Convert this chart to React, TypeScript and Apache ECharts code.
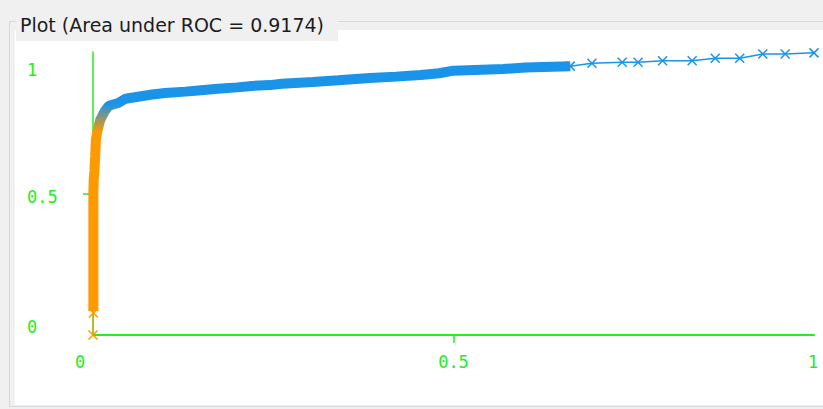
import React, { useEffect, useRef } from "react";
import * as echarts from "echarts";

const titleText = "Plot (Area under ROC = 0.9174)";
const tickValues = [0, 0.5, 1];
const xTickLabels = ["0", "0.5", "1"];
const yTickLabels = ["0", "0.5", "1"];

// first (highest-threshold) segment, orange
const startX = [0, 0.0005];
const startY = [0, 0.078];

// dense part of the ROC curve
const denseX = [
  0.0005, 0.0005, 0.0005, 0.001, 0.002, 0.003, 0.004, 0.006, 0.01, 0.016,
  0.022, 0.035, 0.045, 0.058, 0.082, 0.1, 0.128, 0.15, 0.173, 0.2, 0.22,
  0.245, 0.262, 0.305, 0.34, 0.384, 0.42, 0.454, 0.48, 0.5, 0.569, 0.6, 0.662,
];
const denseY = [
  0.085, 0.3, 0.5, 0.55, 0.58, 0.63, 0.69, 0.72, 0.76, 0.79,
  0.81, 0.82, 0.835, 0.84, 0.85, 0.855, 0.86, 0.865, 0.87, 0.875, 0.88,
  0.883, 0.888, 0.894, 0.9, 0.908, 0.913, 0.919, 0.925, 0.934, 0.94, 0.945, 0.95,
];

// sparse tail of the curve
const tailX = [0.662, 0.692, 0.734, 0.756, 0.79, 0.831, 0.863, 0.897, 0.929, 0.96, 1.0];
const tailY = [0.95, 0.96, 0.964, 0.964, 0.969, 0.969, 0.978, 0.978, 0.993, 0.993, 0.997];

const GREEN = "#22ee22";
const BLUE = "#1a94e8";
const ORANGE = "#ff9900";
const XMARK = "path://M0,0L10,10M10,0L0,10";

const zip = (xs: number[], ys: number[]) => xs.map((x, i) => [x, ys[i]]);

export default function App() {
  const ref = useRef<HTMLDivElement>(null);
  useEffect(() => {
    if (!ref.current) return;
    const chart = echarts.init(ref.current, undefined, { renderer: "svg" });
    const frame: any[] = [
      { type: "rect", z: -10, shape: { x: 9.5, y: 21.5, width: 830, height: 385 }, style: { fill: "#f0f0f0", stroke: "#d3dbe1", lineWidth: 1 } },
      { type: "rect", z: -9, shape: { x: 15, y: 30, width: 808, height: 375 }, style: { fill: "#ffffff" } },
      { type: "rect", z: -8, shape: { x: 16, y: 8, width: 322, height: 33 }, style: { fill: "#f0f0f0" } },
      {
        type: "text", z: -7, x: 20, y: 25,
        style: { text: titleText, fill: "#1c1c1c", font: '19px "DejaVu Sans"', textVerticalAlign: "middle" },
      },
    ];
    const option: any = {
      animation: false,
      backgroundColor: "#f0f0f0",
      grid: { left: 93, top: 52, width: 721, height: 283 },
      xAxis: {
        type: "value", min: 0, max: 1, interval: 0.5,
        axisLine: { lineStyle: { color: GREEN, width: 2 } },
        axisTick: { show: true, customValues: [0.5], length: 8, lineStyle: { color: GREEN, width: 1.5 } },
        axisLabel: { show: false },
        splitLine: { show: false },
      },
      yAxis: {
        type: "value", min: 0, max: 1, interval: 0.5,
        axisLine: { show: true, lineStyle: { color: GREEN, width: 1.5 } },
        axisTick: { show: true, customValues: [0.5], length: 10, lineStyle: { color: GREEN, width: 1.5 } },
        axisLabel: { show: false },
        splitLine: { show: false },
      },
      graphic: frame,
      series: [
        {
          type: "line", data: zip(denseX, denseY), showSymbol: false, z: 3,
          lineStyle: {
            width: 10, join: "bevel", cap: "butt",
            color: new echarts.graphic.LinearGradient(0, 104, 0, 132, [
              { offset: 0, color: BLUE },
              { offset: 1, color: ORANGE },
            ], true),
          },
        },
        {
          type: "line", data: zip(tailX, tailY), symbol: XMARK, symbolSize: 9, z: 4,
          lineStyle: { color: BLUE, width: 1.5 },
          itemStyle: { color: "rgba(0,0,0,0)", borderColor: BLUE, borderWidth: 1.5 },
        },
        {
          type: "line", data: zip(startX, startY), symbol: XMARK, symbolSize: 9, z: 4,
          lineStyle: { color: ORANGE, width: 1.5 },
          itemStyle: { color: "rgba(0,0,0,0)", borderColor: ORANGE, borderWidth: 1.5 },
        },
      ],
    };
    chart.setOption(option);
    const yOff = [-8, 3.5, 18];
    const xOff = [-13, 0, -1];
    const labels: any[] = [];
    tickValues.forEach((v, i) => {
      const py = chart.convertToPixel({ gridIndex: 0 }, [0, v]) as number[];
      const px = chart.convertToPixel({ gridIndex: 0 }, [v, 0]) as number[];
      labels.push({
        type: "text", z: 5, x: 27, y: py[1] + yOff[i],
        style: { text: yTickLabels[i], fill: GREEN, font: '17px "DejaVu Sans Mono"', textAlign: "left", textVerticalAlign: "middle" },
      });
      labels.push({
        type: "text", z: 5, x: px[0] + xOff[i], y: px[1] + 27,
        style: { text: xTickLabels[i], fill: GREEN, font: '17px "DejaVu Sans Mono"', textAlign: "center", textVerticalAlign: "middle" },
      });
    });
    chart.setOption({ graphic: [...frame, ...labels] });
    return () => chart.dispose();
  }, []);
  return (
    <div
      ref={ref}
      style={{ position: "fixed", left: 0, top: 0, width: 823, height: 409 }}
    />
  );
}
